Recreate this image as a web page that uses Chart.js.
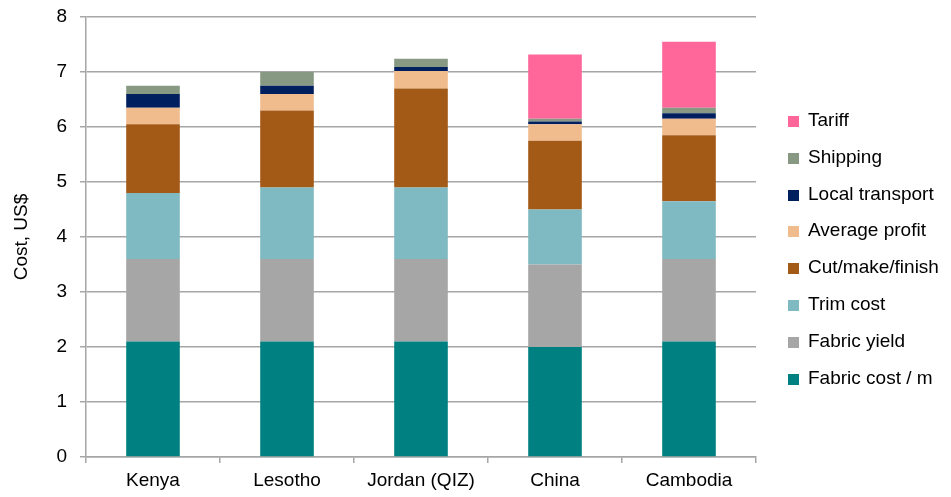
<!DOCTYPE html>
<html>
<head>
<meta charset="utf-8">
<script src="https://cdn.jsdelivr.net/npm/chart.js@4.4.0/dist/chart.umd.min.js"></script>
<style>
  html, body { margin: 0; padding: 0; background: #fff; }
  #wrap { position: relative; width: 951px; height: 497px; }
  #legend { position: absolute; left: 788px; top: 102px; margin: 0; padding: 0; list-style: none;
            font-family: 'Liberation Sans', Arial, sans-serif; font-size: 19px; color: #000; }
  #legend li { height: 36.8px; line-height: 36.8px; white-space: nowrap; }
  #legend span { display: inline-block; width: 11px; height: 11px; margin-right: 9px; vertical-align: -1px; }
</style>
</head>
<body>
<div id="wrap">
  <canvas id="costChart"></canvas>
  <ul id="legend"></ul>
</div>
<script>
// garment cost build-up per country, US$
const countries = ["Kenya", "Lesotho", "Jordan (QIZ)", "China", "Cambodia"];
const fabricCost     = [2.1, 2.1, 2.1, 2.0, 2.1];
const fabricYield    = [1.5, 1.5, 1.5, 1.5, 1.5];
const trimCost       = [1.2, 1.3, 1.3, 1.0, 1.05];
const cutMakeFinish  = [1.25, 1.4, 1.8, 1.25, 1.2];
const averageProfit  = [0.3, 0.3, 0.32, 0.3, 0.3];
const localTransport = [0.25, 0.15, 0.07, 0.05, 0.1];
const shipping       = [0.15, 0.25, 0.15, 0.05, 0.1];
const tariff         = [0, 0, 0, 1.17, 1.2];
const yTicks = [0, 1, 2, 3, 4, 5, 6, 7, 8];

const FONT = "'Liberation Sans', Arial, sans-serif";
const FONT_SIZE = 19;
const GRID = "#a6a6a6";

function series(label, data, color) {
  return { label, data, backgroundColor: color, borderWidth: 0,
           barPercentage: 0.4, categoryPercentage: 1 };
}

const chart = new Chart(document.getElementById("costChart"), {
  type: "bar",
  data: {
    labels: countries,
    datasets: [
      series("Fabric cost / m", fabricCost, "#008080"),
      series("Fabric yield", fabricYield, "#a6a6a6"),
      series("Trim cost", trimCost, "#7fb9c1"),
      series("Cut/make/finish", cutMakeFinish, "#a35a16"),
      series("Average profit", averageProfit, "#f0bb8d"),
      series("Local transport", localTransport, "#001f5f"),
      series("Shipping", shipping, "#879883"),
      series("Tariff", tariff, "#ff6699")
    ]
  },
  options: {
    responsive: true,
    maintainAspectRatio: false,
    animation: false,
    // room on the right is taken by the html legend
    layout: { padding: { top: 17, right: 195, bottom: 0, left: 0 } },
    plugins: {
      tooltip: { enabled: false },
      legend: { display: false }
    },
    scales: {
      x: {
        stacked: true,
        grid: { display: true, drawOnChartArea: false, drawTicks: true, tickLength: 6, color: GRID, lineWidth: 1.5 },
        border: { color: GRID, width: 1.5 },
        ticks: { color: "#000", font: { family: FONT, size: FONT_SIZE }, padding: 6 },
        afterFit: s => { s.height = 40; s.paddingLeft = 0; s.paddingRight = 0; }
      },
      y: {
        stacked: true,
        min: 0, max: 8,
        afterBuildTicks: s => { s.ticks = yTicks.map(v => ({ value: v })); },
        grid: { color: GRID, lineWidth: 1.5, tickLength: 6 },
        border: { color: GRID, width: 1.5 },
        ticks: { color: "#000", font: { family: FONT, size: FONT_SIZE }, padding: 13 },
        title: { display: true, text: "Cost, US$", color: "#000", font: { family: FONT, size: FONT_SIZE }, padding: { top: 10, bottom: 4 } },
        afterFit: s => { s.width = 86; s.paddingTop = 0; s.paddingBottom = 0; }
      }
    }
  }
});

// legend, top to bottom in reverse stacking order
const legendEl = document.getElementById("legend");
chart.data.datasets.slice().reverse().forEach(ds => {
  const li = document.createElement("li");
  const box = document.createElement("span");
  box.style.background = ds.backgroundColor;
  li.appendChild(box);
  li.appendChild(document.createTextNode(ds.label));
  legendEl.appendChild(li);
});
</script>
</body>
</html>
